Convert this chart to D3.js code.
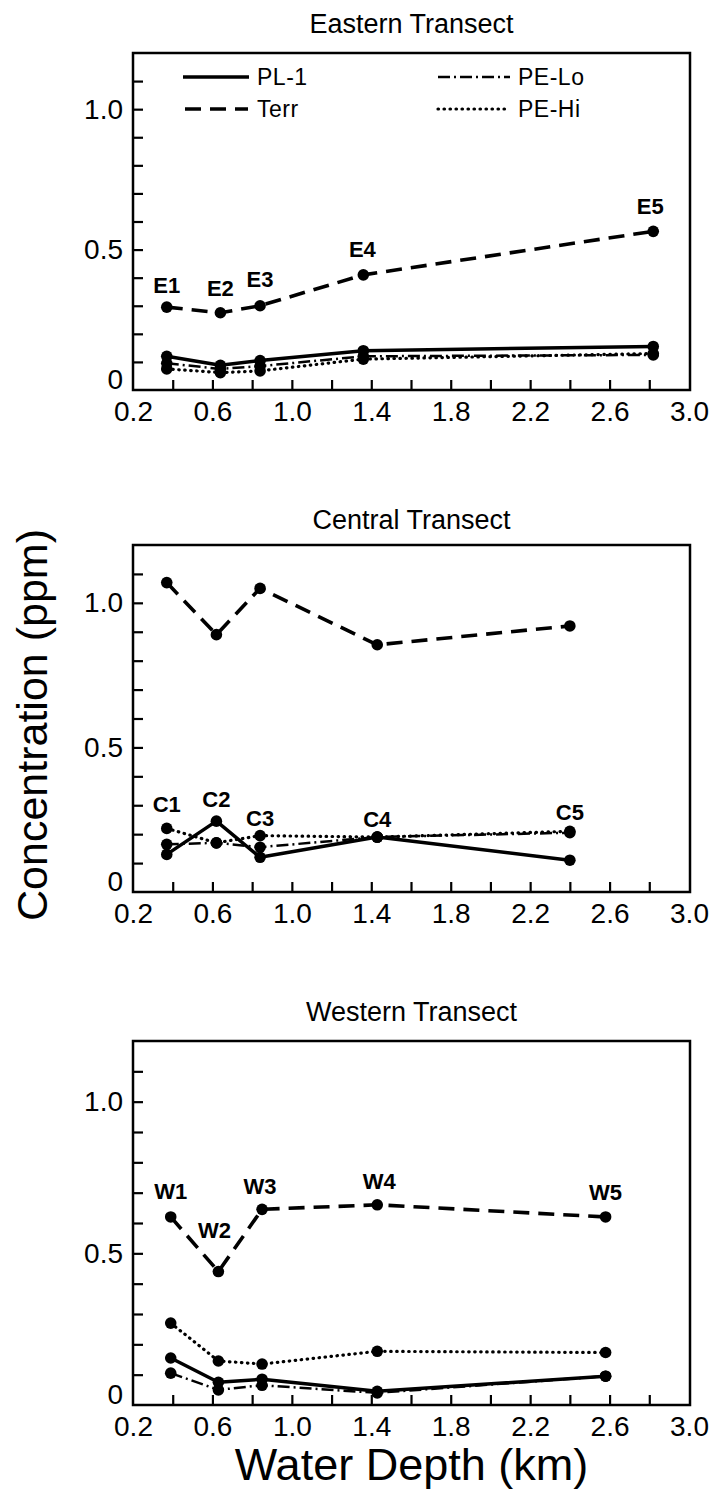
<!DOCTYPE html>
<html>
<head>
<meta charset="utf-8">
<script src="https://cdn.jsdelivr.net/npm/d3@7/dist/d3.min.js"></script>
<style>
  body { margin: 0; background: #fff; }
  svg text { font-family: "Liberation Sans", Arial, Helvetica, sans-serif; fill: #000; }
</style>
</head>
<body>
<svg id="chart" width="721" height="1498"></svg>
<script>
// ---- data ----
const seriesNames = ["PL-1", "Terr", "PE-Lo", "PE-Hi"];

const eastStations = ["E1", "E2", "E3", "E4", "E5"];
const eastDepth = [0.37, 0.64, 0.84, 1.36, 2.82];
const eastPL1  = [0.120, 0.088, 0.105, 0.140, 0.155];
const eastTerr = [0.295, 0.275, 0.300, 0.410, 0.565];
const eastPELo = [0.095, 0.075, 0.085, 0.120, 0.125];
const eastPEHi = [0.075, 0.062, 0.068, 0.110, 0.130];

const centStations = ["C1", "C2", "C3", "C4", "C5"];
const centDepth = [0.37, 0.62, 0.84, 1.43, 2.40];
const centPL1  = [0.130, 0.245, 0.120, 0.190, 0.110];
const centTerr = [1.070, 0.890, 1.050, 0.855, 0.920];
const centPELo = [0.165, 0.170, 0.155, 0.190, 0.205];
const centPEHi = [0.220, 0.170, 0.195, 0.190, 0.210];

const westStations = ["W1", "W2", "W3", "W4", "W5"];
const westDepth = [0.39, 0.63, 0.85, 1.43, 2.58];
const westPL1  = [0.155, 0.075, 0.085, 0.045, 0.095];
const westTerr = [0.620, 0.440, 0.645, 0.660, 0.620];
const westPELo = [0.105, 0.050, 0.065, 0.040, 0.095];
const westPEHi = [0.270, 0.145, 0.135, 0.177, 0.173];

const xTickValues = [0.4, 0.6, 0.8, 1.0, 1.2, 1.4, 1.6, 1.8, 2.0, 2.2, 2.4, 2.6, 2.8];
const xTickLabels = [0.2, 0.6, 1.0, 1.4, 1.8, 2.2, 2.6, 3.0];
const yTickValues = [0.1, 0.2, 0.3, 0.4, 0.5, 0.6, 0.7, 0.8, 0.9, 1.0, 1.1];
const yTickLabels = [0, 0.5, 1.0];

// ---- line styles ----
const styles = {
  "PL-1":  { dash: null,        width: 3.5, cap: "butt" },
  "Terr":  { dash: "16,9",      width: 3.6, cap: "butt" },
  "PE-Lo": { dash: "12,4,2,4",  width: 2.5, cap: "butt" },
  "PE-Hi": { dash: "0.5,5.5",   width: 3.2, cap: "round" }
};

// ---- layout ----
const left = 133, right = 690;
const panels = [
  { title: "Eastern Transect", titleGap: 20, top: 53, bottom: 390, depth: eastDepth, stations: eastStations,
    values: [eastPL1, eastTerr, eastPELo, eastPEHi], labelOn: "Terr",
    labelDx: [0, 0, 0, -1, -3], labelDy: [-22, -25, -27, -26, -25], legend: true },
  { title: "Central Transect", titleGap: 16, top: 545, bottom: 892, depth: centDepth, stations: centStations,
    values: [centPL1, centTerr, centPELo, centPEHi], labelOn: "low",
    labelDx: [0, 0, 0, 0, 0], labelDy: [-24, -22, -18, -18, -19], legend: false },
  { title: "Western Transect", titleGap: 20, top: 1041, bottom: 1405, depth: westDepth, stations: westStations,
    values: [westPL1, westTerr, westPELo, westPEHi], labelOn: "Terr",
    labelDx: [0, -4, -2, 2, 0], labelDy: [-26, -41, -23, -24, -25], legend: false }
];

const svg = d3.select("#chart");
const x = d3.scaleLinear().domain([0.2, 3.0]).range([left, 689]);

panels.forEach(function(p) {
  const y = d3.scaleLinear().domain([0, 1.2]).range([p.bottom, p.top]);
  const g = svg.append("g");

  // title
  g.append("text")
    .attr("x", (left + right) / 2)
    .attr("y", p.top - p.titleGap)
    .attr("text-anchor", "middle")
    .style("font-size", "27px")
    .text(p.title);

  // bottom axis: inward ticks every 0.2, labels every 0.4
  const xAxis = g.append("g")
    .attr("transform", "translate(0," + p.bottom + ")")
    .call(d3.axisBottom(x).tickValues(xTickValues).tickSize(-10).tickFormat(""));
  xAxis.select(".domain").remove();
  xAxis.selectAll("line").attr("stroke", "#000").attr("stroke-width", 2.2);

  const xLab = g.append("g")
    .attr("transform", "translate(0," + p.bottom + ")")
    .call(d3.axisBottom(x).tickValues(xTickLabels).tickSize(0).tickPadding(11).tickFormat(d3.format(".1f")));
  xLab.select(".domain").remove();
  xLab.selectAll("text").style("font-size", "28px").attr("font-family", null);

  // left axis: inward ticks every 0.1, labels 0 / 0.5 / 1.0
  const yAxis = g.append("g")
    .attr("transform", "translate(" + left + ",0)")
    .call(d3.axisLeft(y).tickValues(yTickValues).tickSize(-10).tickFormat(""));
  yAxis.select(".domain").remove();
  yAxis.selectAll("line").attr("stroke", "#000").attr("stroke-width", 2.2);

  const yLab = g.append("g")
    .attr("transform", "translate(" + left + ",0)")
    .call(d3.axisLeft(y).tickValues(yTickLabels).tickSize(0).tickPadding(10)
      .tickFormat(function(d) { return d === 0 ? "0" : d3.format(".1f")(d); }));
  yLab.select(".domain").remove();
  yLab.selectAll("text").style("font-size", "28px").attr("font-family", null);
  // the zero sits a little above the corner so it clears the x labels
  yLab.selectAll("text").filter(function(d) { return d === 0; }).attr("y", -10);

  // frame
  g.append("rect")
    .attr("x", left).attr("y", p.top)
    .attr("width", right - left).attr("height", p.bottom - p.top)
    .attr("fill", "none").attr("stroke", "#000").attr("stroke-width", 2.5);

  // series lines
  const line = d3.line().x(function(d) { return x(d[0]); }).y(function(d) { return y(d[1]); });
  seriesNames.forEach(function(name, i) {
    const pts = p.depth.map(function(dv, j) { return [dv, p.values[i][j]]; });
    const s = styles[name];
    g.append("path")
      .datum(pts)
      .attr("d", line)
      .attr("fill", "none")
      .attr("stroke", "#000")
      .attr("stroke-width", s.width)
      .attr("stroke-linecap", s.cap)
      .attr("stroke-linejoin", "round")
      .attr("stroke-dasharray", s.dash);
  });

  // markers
  seriesNames.forEach(function(name, i) {
    g.selectAll(null)
      .data(p.depth.map(function(dv, j) { return [dv, p.values[i][j]]; }))
      .enter().append("circle")
      .attr("cx", function(d) { return x(d[0]); })
      .attr("cy", function(d) { return y(d[1]); })
      .attr("r", 5.8)
      .attr("fill", "#000");
  });

  // station labels
  p.stations.forEach(function(st, j) {
    let v;
    if (p.labelOn === "low") {
      // highest of the three non-Terr series
      v = d3.max(p.values.filter(function(arr, k) { return seriesNames[k] !== "Terr"; }),
        function(arr) { return arr[j]; });
    } else {
      v = p.values[seriesNames.indexOf(p.labelOn)][j];
    }
    g.append("text")
      .attr("x", x(p.depth[j]) + p.labelDx[j])
      .attr("y", y(v) + p.labelDy[j])
      .attr("dy", "0.36em")
      .attr("text-anchor", "middle")
      .style("font-size", "22px")
      .style("font-weight", "bold")
      .text(st);
  });

  // legend
  if (p.legend) {
    const rows = [
      { name: "PL-1",  x1: 183, x2: 249, ty: 77,  tx: 257 },
      { name: "Terr",  x1: 185, x2: 248, ty: 109, tx: 257 },
      { name: "PE-Lo", x1: 438, x2: 510, ty: 77,  tx: 518 },
      { name: "PE-Hi", x1: 438, x2: 510, ty: 109, tx: 518 }
    ];
    rows.forEach(function(r) {
      const s = styles[r.name];
      g.append("line")
        .attr("x1", r.x1).attr("x2", r.x2)
        .attr("y1", r.ty).attr("y2", r.ty)
        .attr("stroke", "#000")
        .attr("stroke-width", s.width)
        .attr("stroke-linecap", s.cap)
        .attr("stroke-dasharray", s.dash);
      g.append("text")
        .attr("x", r.tx).attr("y", r.ty)
        .attr("dy", "0.36em")
        .style("font-size", "23px")
        .style("letter-spacing", "0.5px")
        .text(r.name);
    });
  }
});

// shared axis titles
svg.append("text")
  .attr("transform", "translate(47,725) rotate(-90)")
  .attr("text-anchor", "middle")
  .style("font-size", "43px")
  .text("Concentration (ppm)");

svg.append("text")
  .attr("x", (left + right) / 2)
  .attr("y", 1480)
  .attr("text-anchor", "middle")
  .style("font-size", "45px")
  .text("Water Depth (km)");
</script>
</body>
</html>
